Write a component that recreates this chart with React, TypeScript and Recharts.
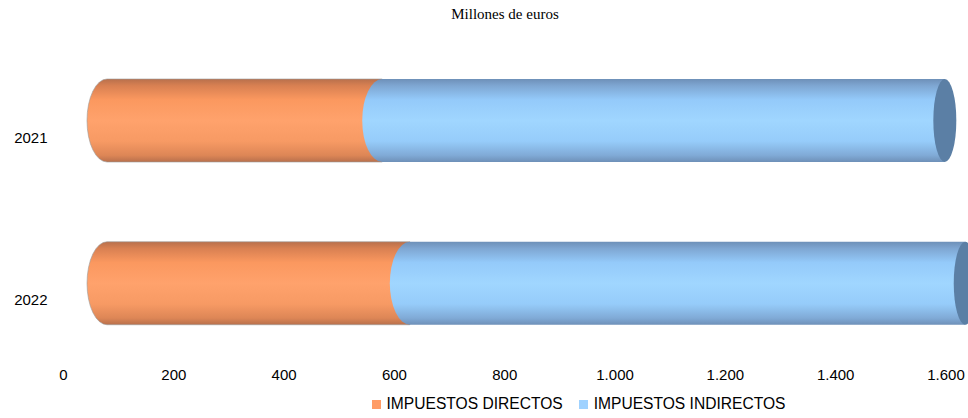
import { BarChart, Bar, XAxis, YAxis, Legend } from "recharts";

const years = ["2021", "2022"];
const directos = [499, 549];
const indirectos = [1020, 1007];
const xTicks = [0, 200, 400, 600, 800, 1000, 1200, 1400, 1600];

const data = years.map((y, i) => ({
  year: y,
  directos: directos[i],
  indirectos: indirectos[i],
}));

const DEPTH = 43.5; // 3D shift of the cylinders

const fmt = (v: number) => v.toLocaleString("de-DE");

function Cylinder(props: any) {
  const { x, y, width, height, fill, capFill, first, last } = props;
  const cx = x + DEPTH;
  const ry = height / 2;
  const rxL = 20;
  const rxR = 11.5;
  const body = `M${cx},${y} L${cx + width},${y} L${cx + width},${y + height} L${cx},${y + height}
    A${rxL},${ry} 0 0 1 ${cx},${y} Z`;
  return (
    <g>
      <path d={body} fill={fill} stroke="#9a9a9a" strokeWidth={first ? 0.6 : 0} />
      {last && (
        <ellipse cx={cx + width} cy={y + ry} rx={rxR} ry={ry} fill={capFill} />
      )}
    </g>
  );
}

function YearTick(props: any) {
  const { x, y, payload } = props;
  return (
    <text x={x - 8} y={y + 17} dy="0.35em" textAnchor="end" fontSize={15} fill="#000"
      fontFamily="'Liberation Sans', Arial, sans-serif">
      {payload.value}
    </text>
  );
}

function LegendBox() {
  const item = (color: string, label: string, mr: number) => (
    <span style={{ display: "inline-flex", alignItems: "center", marginRight: mr }}>
      <span style={{ width: 9, height: 9, background: color, marginRight: 6, display: "inline-block" }} />
      {label}
    </span>
  );
  return (
    <div style={{ textAlign: "center", paddingLeft: 211, fontSize: 15.6, lineHeight: "18px",
      fontFamily: "'Liberation Sans', Arial, sans-serif", color: "#000" }}>
      {item("#ff9c66", "IMPUESTOS DIRECTOS", 16)}
      {item("#9fd2ff", "IMPUESTOS INDIRECTOS", 0)}
    </div>
  );
}

export default function App() {
  return (
    <div style={{ position: "relative", width: 968, height: 418 }}>
      <style>{"body{margin:0}"}</style>
      <div style={{ position: "absolute", top: 6, left: 0, width: 1010, textAlign: "center",
        fontFamily: "'Liberation Serif', 'Times New Roman', serif", fontSize: 15, color: "#000" }}>
        Millones de euros
      </div>
      <BarChart width={968} height={418} data={data} layout="vertical"
        margin={{ top: 39, right: 22, left: 0, bottom: 5 }}>
        <defs>
          <linearGradient id="gOrange" x1="0" y1="0" x2="0" y2="1">
            <stop offset="0%" stopColor="#b8704c" />
            <stop offset="8%" stopColor="#d88052" />
            <stop offset="25%" stopColor="#fb985f" />
            <stop offset="50%" stopColor="#ffa26c" />
            <stop offset="75%" stopColor="#f79a64" />
            <stop offset="92%" stopColor="#dd8656" />
            <stop offset="100%" stopColor="#b8704c" />
          </linearGradient>
          <linearGradient id="gBlue" x1="0" y1="0" x2="0" y2="1">
            <stop offset="0%" stopColor="#6e90b8" />
            <stop offset="8%" stopColor="#7ea6d2" />
            <stop offset="25%" stopColor="#94cafa" />
            <stop offset="50%" stopColor="#a0d6ff" />
            <stop offset="75%" stopColor="#96ccfa" />
            <stop offset="92%" stopColor="#80aad6" />
            <stop offset="100%" stopColor="#6e90b8" />
          </linearGradient>
        </defs>
        <XAxis type="number" domain={[0, 1600]} ticks={xTicks} tickFormatter={fmt}
          axisLine={false} tickLine={false} tickSize={3} height={30} interval={0}
          tick={{ fontSize: 15, fill: "#000", fontFamily: "'Liberation Sans', Arial, sans-serif" }} />
        <YAxis type="category" dataKey="year" width={63.5} axisLine={false} tickLine={false}
          tick={<YearTick />} />
        <Legend verticalAlign="bottom" content={<LegendBox />} />
        <Bar dataKey="directos" stackId="a" barSize={83} isAnimationActive={false}
          fill="url(#gOrange)" shape={(p: any) => <Cylinder {...p} fill="url(#gOrange)" first />} />
        <Bar dataKey="indirectos" stackId="a" barSize={83} isAnimationActive={false}
          fill="url(#gBlue)"
          shape={(p: any) => <Cylinder {...p} fill="url(#gBlue)" capFill="#5b7fa5" last />} />
      </BarChart>
    </div>
  );
}
